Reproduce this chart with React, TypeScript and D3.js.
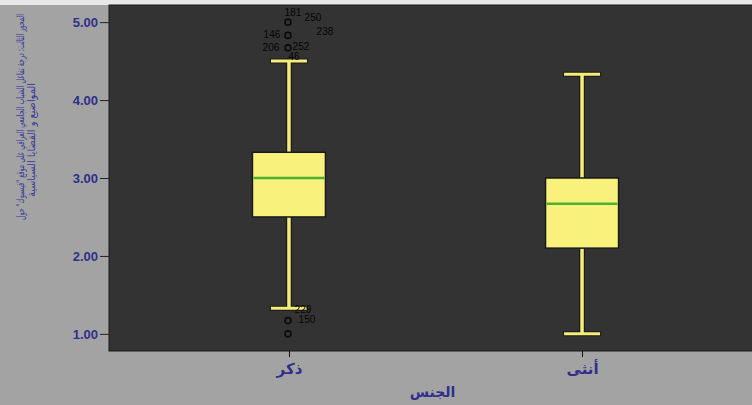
import { useEffect, useRef } from "react";
import * as d3 from "d3";

const categories = ["ذكر", "أنثى"];
const lowerWhisker = [1.33, 1.0];
const q1 = [2.5, 2.1];
const median = [3.0, 2.67];
const q3 = [3.33, 3.0];
const upperWhisker = [4.5, 4.33];

// outliers of the male group (value, case ids)
const outlierValues = [5.0, 4.83, 4.67, 4.5, 1.17, 1.0];
const outlierIds = [["181", "250"], ["146", "238"], ["206", "252"], ["46"], ["229", "150"], []];

const yTicks = [1, 2, 3, 4, 5];
const yTitle = [
  "المحور الثالث: درجة تفاعل الشباب الجامعي العراقي على موقع \"فيسبوك\" حول",
  "المواضيع و القضايا السياسية",
];
const xTitle = "الجنس";

// label placement around the circle, by case id
const labelOffsets: Record<string, [number, number]> = {
  "181": [4, -9],
  "250": [24, -4],
  "146": [-17, 0],
  "238": [36, -3],
  "206": [-18, 0],
  "252": [12, -1],
  "46": [5, -4],
  "229": [14, -10],
  "150": [18, 0],
};

export default function App() {
  const svgRef = useRef<SVGSVGElement>(null);

  useEffect(() => {
    const width = 752;
    const height = 405;
    const plotLeft = 109;
    const plotRight = 762;
    const plotTop = 5;
    const plotBottom = 351;

    const svg = d3.select(svgRef.current);
    svg.selectAll("*").remove();
    svg.attr("viewBox", [0, 0, width, height]).attr("width", width).attr("height", height);

    svg.append("rect").attr("width", width).attr("height", height).attr("fill", "#e8e8e8");
    svg.append("rect").attr("y", plotTop).attr("width", width).attr("height", height - plotTop).attr("fill", "#a3a3a3");
    svg.append("rect")
      .attr("x", plotLeft).attr("y", plotTop)
      .attr("width", plotRight - plotLeft).attr("height", plotBottom - plotTop)
      .attr("fill", "#333333").attr("stroke", "#1a1a1a");

    const y = d3.scaleLinear().domain([0.78, 5.22]).range([plotBottom, plotTop]);
    const x = d3.scalePoint<string>().domain(categories).range([plotLeft, plotRight]).padding(0.614);

    const blue = "#2f2f8c";

    // y axis
    const yAxis = svg.append("g")
      .attr("transform", `translate(${plotLeft},0)`)
      .call(d3.axisLeft(y).tickValues(yTicks).tickFormat(d3.format(".2f")).tickSize(9).tickPadding(2));
    yAxis.select(".domain").remove();
    yAxis.selectAll("line").attr("stroke", "#222");
    yAxis.selectAll("text")
      .attr("fill", blue).attr("font-size", 13).attr("font-weight", "bold")
      .attr("font-family", "Liberation Sans, Arial, sans-serif");

    // x axis
    const xAxis = svg.append("g")
      .attr("transform", `translate(0,${plotBottom})`)
      .call(d3.axisBottom(x).tickSize(6).tickPadding(6));
    xAxis.select(".domain").remove();
    xAxis.selectAll("line").attr("stroke", "#111");
    xAxis.selectAll("text")
      .attr("fill", blue).attr("font-size", 15).attr("font-weight", "bold")
      .attr("font-family", "DejaVu Sans, sans-serif");

    svg.append("text")
      .attr("x", (plotLeft + 752) / 2 + 2).attr("y", 397)
      .attr("text-anchor", "middle").attr("fill", blue)
      .attr("font-size", 14).attr("font-weight", "bold")
      .attr("font-family", "DejaVu Sans, sans-serif")
      .text(xTitle);

    const titleLengths = [206, 114];
    yTitle.forEach((line, i) => {
      svg.append("text")
        .attr("transform", `translate(${24 + i * 11},${117 + i * 23}) rotate(-90)`)
        .attr("text-anchor", "middle").attr("fill", "#3b3b9c")
        .attr("font-size", 10.5)
        .attr("textLength", titleLengths[i]).attr("lengthAdjust", "spacingAndGlyphs")
        .attr("font-family", "DejaVu Sans, sans-serif")
        .text(line);
    });

    const boxW = 73;
    const capW = 38;
    categories.forEach((c, i) => {
      const cx = x(c)!;
      const g = svg.append("g");
      // whiskers
      [[lowerWhisker[i], q1[i]], [q3[i], upperWhisker[i]]].forEach(([a, b]) => {
        g.append("line").attr("x1", cx).attr("x2", cx).attr("y1", y(a)).attr("y2", y(b))
          .attr("stroke", "#1a1a1a").attr("stroke-width", 6);
      });
      [lowerWhisker[i], upperWhisker[i]].forEach((v) => {
        g.append("line").attr("x1", cx - capW / 2).attr("x2", cx + capW / 2).attr("y1", y(v)).attr("y2", y(v))
          .attr("stroke", "#1a1a1a").attr("stroke-width", 5);
      });
      [[lowerWhisker[i], q1[i]], [q3[i], upperWhisker[i]]].forEach(([a, b]) => {
        g.append("line").attr("x1", cx).attr("x2", cx).attr("y1", y(a)).attr("y2", y(b))
          .attr("stroke", "#f4ee78").attr("stroke-width", 3.5);
      });
      [lowerWhisker[i], upperWhisker[i]].forEach((v) => {
        g.append("line").attr("x1", cx - capW / 2 + 1).attr("x2", cx + capW / 2 - 1).attr("y1", y(v)).attr("y2", y(v))
          .attr("stroke", "#f4ee78").attr("stroke-width", 3);
      });
      g.append("rect")
        .attr("x", cx - boxW / 2).attr("y", y(q3[i]))
        .attr("width", boxW).attr("height", y(q1[i]) - y(q3[i]))
        .attr("fill", "#f8f27c").attr("stroke", "#1a1a1a").attr("stroke-width", 1.5);
      g.append("line")
        .attr("x1", cx - boxW / 2 + 1).attr("x2", cx + boxW / 2 - 1)
        .attr("y1", y(median[i])).attr("y2", y(median[i]))
        .attr("stroke", "#4cb030").attr("stroke-width", 2.5);
    });

    // outliers (male group)
    const ox = x(categories[0])!;
    outlierValues.forEach((v, k) => {
      const oy = y(v);
      if (v !== upperWhisker[0]) {
        svg.append("circle").attr("cx", ox - 1).attr("cy", oy).attr("r", 3)
          .attr("fill", "none").attr("stroke", "#0a0a0a").attr("stroke-width", 1.6);
      }
      outlierIds[k].forEach((id) => {
        const [dx, dy] = labelOffsets[id];
        svg.append("text")
          .attr("x", ox + dx).attr("y", oy + dy)
          .attr("text-anchor", "middle").attr("dominant-baseline", "middle")
          .attr("fill", "#050505").attr("font-size", 10)
          .attr("font-family", "Liberation Sans, Arial, sans-serif")
          .text(id);
      });
    });
  }, []);

  return (
    <svg ref={svgRef} style={{ position: "absolute", left: 0, top: 0, display: "block" }}></svg>
  );
}
